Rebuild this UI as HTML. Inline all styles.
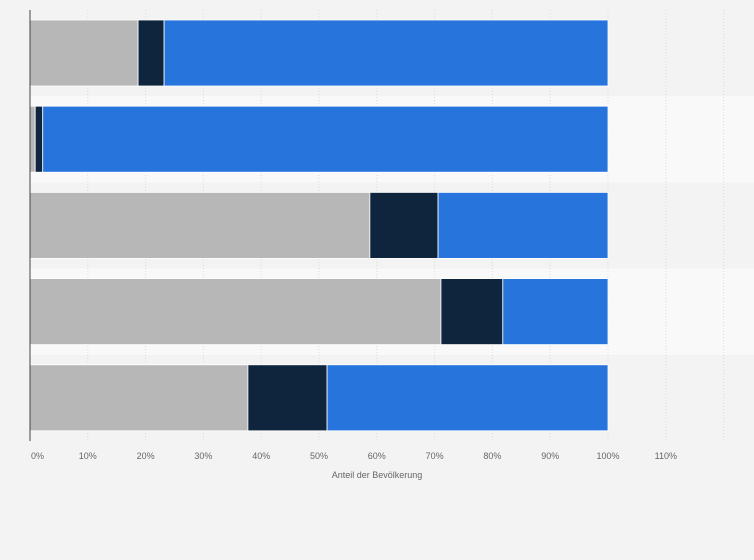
<!DOCTYPE html>
<html><head><meta charset="utf-8"><style>
body{margin:0;background:#f3f3f3;}
svg{display:block;font-family:"Liberation Sans",sans-serif;}
</style></head><body>
<svg id="c" width="754" height="560"></svg>
<script>
const categories=["A","B","C","D","E"];
const seriesGray=[18.7,0.9,58.8,71.1,37.7];
const seriesNavy=[4.5,1.3,11.8,10.7,13.7];
const seriesBlue=[76.8,97.8,29.4,18.2,48.6];
const tickValues=[0,10,20,30,40,50,60,70,80,90,100,110,120];
const tickLabels=["0%","10%","20%","30%","40%","50%","60%","70%","80%","90%","100%","110%",""];
const NS="http://www.w3.org/2000/svg";
const svg=document.getElementById('c');
const x0=30,x100=608,plotTop=10,rowH=86.2,barPad=10,barH=66;
const xs=v=>x0+(x100-x0)*v/100;
function mk(t,a,p){const e=document.createElementNS(NS,t);for(const k in a)e.setAttribute(k,a[k]);(p||svg).appendChild(e);return e;}
categories.forEach((c,i)=>{
  if(i%2===1){const b=mk('rect',{x:x0,y:plotTop+i*rowH,width:754-x0,height:rowH,fill:'#f9f9f9'});
  
  }
});
tickValues.forEach((v,i)=>{
  const g=mk('line',{x1:xs(v),x2:xs(v),y1:plotTop,y2:440,stroke:'#dcdcdc','stroke-dasharray':'1,2'});
  
  
  if(tickLabels[i]){const t=mk('text',{x:i===0?x0+1:xs(v),y:459,'font-size':9,fill:'#666','text-anchor':i===0?'start':'middle'});t.textContent=tickLabels[i];
  
  }
});
const colors=['#b7b7b7','#0f253d','#2775dc'];
const names=['gray','navy','blue'];
categories.forEach((c,i)=>{
  let acc=0;
  [seriesGray[i],seriesNavy[i],seriesBlue[i]].forEach((v,s)=>{
    const r=mk('rect',{x:xs(acc),y:plotTop+i*rowH+barPad,width:xs(acc+v)-xs(acc),height:barH,fill:colors[s],stroke:'#fff','stroke-width':0.8});
    
    
    acc+=v;
  });
});
const ax=mk('line',{x1:x0,x2:x0,y1:plotTop,y2:441,stroke:'#444','stroke-width':1});


const tt=mk('text',{x:377,y:478,'font-size':9,fill:'#666','text-anchor':'middle'});
tt.textContent='Anteil der Bevölkerung';


</script>
</body></html>
